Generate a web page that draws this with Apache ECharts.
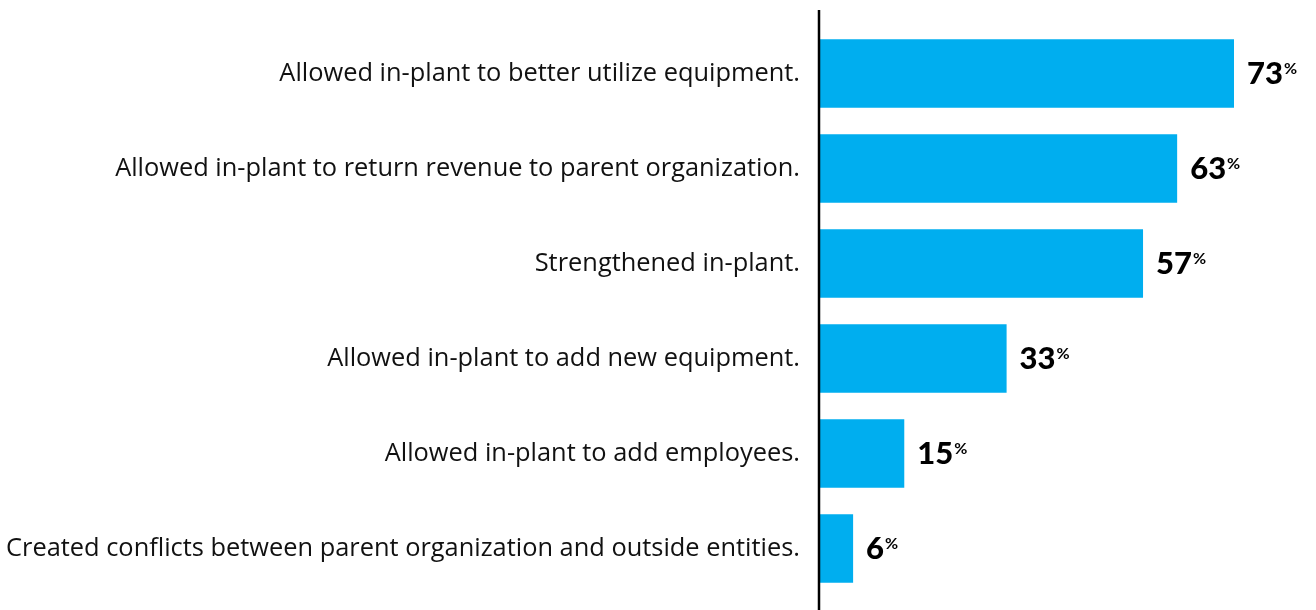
<!DOCTYPE html>
<html>
<head>
<meta charset="utf-8">
<script src="https://cdn.jsdelivr.net/npm/echarts@6/dist/echarts.min.js"></script>
<style>
  html, body { margin: 0; padding: 0; background: #fff; }
  #chart { width: 1316px; height: 610px; }
</style>
</head>
<body>
<div id="chart"></div>
<script>
// Survey outcomes, listed top to bottom
const categories = [
  'Allowed in-plant to better utilize equipment.',
  'Allowed in-plant to return revenue to parent organization.',
  'Strengthened in-plant.',
  'Allowed in-plant to add new equipment.',
  'Allowed in-plant to add employees.',
  'Created conflicts between parent organization and outside entities.'
];
const percentages = [73, 63, 57, 33, 15, 6];

const chart = echarts.init(document.getElementById('chart'));

const GRID_LEFT = 819;
const GRID_TOP = 26;
const GRID_HEIGHT = 570;

chart.setOption({
  animation: false,
  grid: { left: GRID_LEFT, right: 1316 - GRID_LEFT - 415, top: GRID_TOP, height: GRID_HEIGHT },
  xAxis: {
    type: 'value', min: 0, max: 73,
    show: false
  },
  yAxis: {
    type: 'category',
    inverse: true,
    data: categories,
    axisLine: { show: false },
    axisTick: { show: false },
    axisLabel: {
      margin: 19,
      color: '#111',
      fontFamily: 'Open Sans',
      fontWeight: 500,
      fontSize: 25.4
    }
  },
  series: [{
    type: 'bar',
    data: percentages,
    barCategoryGap: '28%',
    itemStyle: { color: '#00AEEF' },
    label: {
      show: true,
      position: 'right',
      distance: 13,
      formatter: p => '{v|' + p.value + '}{p|%}',
      rich: {
        v: { fontFamily: 'Lato', fontWeight: 900, fontSize: 31, color: '#000', lineHeight: 34 },
        p: { fontFamily: 'Lato', fontWeight: 700, fontSize: 16, color: '#000', padding: [0, 0, 10, 1], lineHeight: 34 }
      }
    }
  }],
  graphic: [{
    type: 'line',
    shape: { x1: GRID_LEFT, y1: 10, x2: GRID_LEFT, y2: 610 },
    style: { stroke: '#000', lineWidth: 2.5 },
    z: 10
  }]
});
</script>
</body>
</html>
